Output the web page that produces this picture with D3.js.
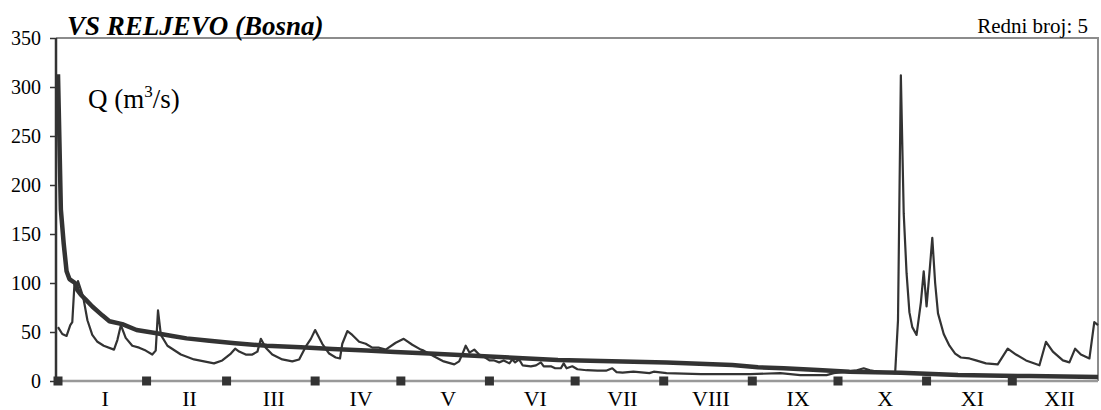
<!DOCTYPE html>
<html>
<head>
<meta charset="utf-8">
<script src="https://cdn.jsdelivr.net/npm/d3@7"></script>
<style>
  html, body { margin: 0; padding: 0; background: #fff; }
  svg { display: block; }
  text { font-family: "Liberation Serif", "Times New Roman", serif; fill: #000; }
</style>
</head>
<body>
<svg id="chart" width="1101" height="410"></svg>
<script>
// ---- data ----
const titleText = "VS RELJEVO (Bosna)";
const ordinalText = "Redni broj: 5";
const months = ["I","II","III","IV","V","VI","VII","VIII","IX","X","XI","XII"];
const monthStartDays = [0,31,59,90,120,151,181,212,243,273,304,334];
const yTicks = [0,50,100,150,200,250,300,350];

// daily discharge hydrograph (day of year, Q m3/s)
const flowDays = [0,1.5,3,4.3,5,5.8,6.5,7,8.8,10.3,12,13.8,16,19.6,20.8,22,23.7,26,28.4,30.7,33,34.2,35,36,38.3,43,47.6,54.6,57.5,60.5,62,63.4,65.7,68,69.8,71,72.7,75,78.5,82,84.4,86.7,88.5,90,92.5,94.9,97.2,98.7,99.5,101.3,103,105.4,107.7,110,112.4,114.7,118.2,121,124,127,128,131.7,135,138.7,140.4,141.6,142.7,144,145.7,147.4,149,151,152.7,154.4,156,158,159,160,161.4,162.6,165.5,167.3,169,170,172.5,174,176,177,178,180,181.8,185,188.8,191.8,194,195.5,197.6,201.4,207,208.5,213,225,236.5,242.3,252.8,259.8,269,271.5,276,279.6,282,284.2,286.6,293,294,295,296,297,298,299,300.5,302,303,304,305,306,307,308,310,312,314,316,319,321.3,324.8,328.9,332.4,335.3,338.8,343.5,345.8,348.2,351.7,354,356,358,361,362.7,364];
const flowValues = [55,48,46,57,60,101,92,102,86,62,47,40,36,32,42,57,44,36,34,31,27,31,72,47,36,27,22,18,21,28,33,30,27,27,30,43,34,27,22,20,22,35,43,52,38,28,24,23,38,51,47,40,38,34,34,32,39,43,37,32,31,25,20,17,20,28,36,29,32,27,25,21,21,19,21,18,22,19,22,16,15,16,19,15,15,13,13,18,13,15,12,11,10.5,10.5,13,9,8.5,9.5,8,9.5,8,7,7,7,8,6,6,8,9.5,11,13,11,9.5,8,62,312,171,110,70,55,47,80,112,76,110,146,100,69,48,36,28,24,23,21,18,17,33,27,21,16,40,30,21,19,33,27,23,60,57];

// duration curve (days exceeded, Q m3/s)
const durationDays = [0,1,2,3,4,5,6,7,8,9.7,12,15.5,18,22.5,27.5,34,40,45,53,62,73,85,96,108,118,130,151,175,190,213,236,245,254,266,277,295,315,340,364];
const durationValues = [313,175,140,112,104,102,100,92,88,83,76,67,61,58,52,49,46,43.5,41,38.5,36,34.4,32.6,31,29.5,28,25,21.5,20.5,19,16.3,14,13,11.2,9.5,8.5,6,5,4];

// ---- layout ----
const svg = d3.select("#chart");
const plotL = 56, plotR = 1098, plotT = 38, plotB = 381;
const serif = "Liberation Serif, Times New Roman, serif";
const x = d3.scaleLinear().domain([0, 364]).range([58, 1098]);
const y = d3.scaleLinear().domain([0, 350]).range([plotB, plotT]);
const ink = "#333333";

// frame (top & right, grey)
svg.append("path")
  .attr("d", `M${plotL},${plotT}H${plotR}V${plotB}`)
  .attr("fill", "none").attr("stroke", "#8c8c8c").attr("stroke-width", 2);

// x axis line (grey)
svg.append("line")
  .attr("x1", plotL).attr("x2", plotR).attr("y1", y(0)).attr("y2", y(0))
  .attr("stroke", "#999999").attr("stroke-width", 2.5);

// y axis
const yAxis = d3.axisLeft(y).tickValues(yTicks).tickSize(6).tickPadding(9).tickFormat(d3.format("d"));
const gy = svg.append("g").attr("transform", `translate(${plotL},0)`).call(yAxis)
  .attr("font-family", serif).attr("font-size", 20);
gy.select(".domain").remove();
gy.selectAll(".tick line").attr("stroke", ink).attr("stroke-width", 1.5);
gy.selectAll(".tick text")
  .attr("font-family", serif)
  .attr("font-size", 20).attr("fill", "#000").attr("dy", "0.34em");
svg.append("line")
  .attr("x1", plotL).attr("x2", plotL).attr("y1", plotT).attr("y2", plotB)
  .attr("stroke", ink).attr("stroke-width", 2.5);

// lines
const flow = flowDays.map((d, i) => [d, flowValues[i]]);
const dur = durationDays.map((d, i) => [d, durationValues[i]]);
const line = d3.line().x(d => x(d[0])).y(d => y(d[1]));

svg.append("path").datum(flow).attr("d", line)
  .attr("fill", "none").attr("stroke", ink).attr("stroke-width", 2.2).attr("stroke-linejoin", "round");
svg.append("path").datum(dur).attr("d", line)
  .attr("fill", "none").attr("stroke", ink).attr("stroke-width", 4.5).attr("stroke-linejoin", "round");

// month markers
svg.append("g").selectAll("rect").data(monthStartDays).join("rect")
  .attr("x", d => x(d) - 4.5).attr("y", y(0) - 4.5)
  .attr("width", 9).attr("height", 9).attr("fill", ink);

// month labels
const monthEnds = monthStartDays.slice(1).concat([365]);
svg.append("g").selectAll("text").data(months).join("text")
  .attr("x", (d, i) => x((monthStartDays[i] + monthEnds[i]) / 2) + 3)
  .attr("y", 406)
  .attr("text-anchor", "middle")
  .attr("font-family", serif)
  .attr("font-size", 22)
  .text(d => d);

// title
svg.append("text").attr("x", 67).attr("y", 35)
  .attr("font-family", serif)
  .attr("font-size", 27).attr("font-weight", "bold").attr("font-style", "italic")
  .text(titleText);

// right caption
svg.append("text").attr("x", 1088).attr("y", 33).attr("text-anchor", "end")
  .attr("font-family", serif)
  .attr("font-size", 21).text(ordinalText);

// axis unit label
const q = svg.append("text").attr("x", 88).attr("y", 108).attr("font-size", 27).attr("font-family", serif);
q.append("tspan").text("Q (m");
q.append("tspan").attr("font-size", 17).attr("dy", -11).text("3");
q.append("tspan").attr("dy", 11).text("/s)");
</script>
</body>
</html>
